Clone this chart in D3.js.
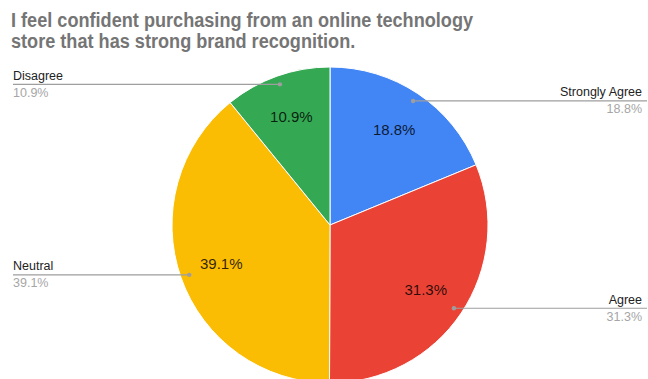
<!DOCTYPE html>
<html>
<head>
<meta charset="utf-8">
<script src="https://cdn.jsdelivr.net/npm/d3@7"></script>
<style>
  html, body { margin: 0; padding: 0; background: #fff; overflow: hidden; }
  svg { display: block; }
</style>
</head>
<body>
<svg id="chart" width="648" height="379"></svg>
<script>
// Survey response shares (percent)
const categories = ["Strongly Agree", "Agree", "Neutral", "Disagree"];
const shares = [18.8, 31.3, 39.1, 10.9];
const colors = ["#4285F4", "#EA4335", "#FBBC04", "#34A853"];
const titleLines = [
  "I feel confident purchasing from an online technology",
  "store that has strong brand recognition."
];

const width = 648, height = 379;
const cx = 330, cy = 225, R = 158;

const svg = d3.select("#chart");

// Title, set in a slightly condensed bold face
svg.append("g")
  .attr("transform", "translate(11,0) scale(0.93,1)")
  .selectAll("text")
  .data(titleLines)
  .join("text")
  .attr("x", 0)
  .attr("y", (d, i) => 27.5 + i * 20.5)
  .attr("font-family", "'Liberation Sans', Arial, sans-serif")
  .attr("font-weight", "bold")
  .attr("font-size", 19.5)
  .attr("fill", "#757575")
  .text(d => d);

const data = categories.map((c, i) => ({ name: c, value: shares[i], color: colors[i] }));

const pie = d3.pie().value(d => d.value).sort(null);
const arcs = pie(data);
const arc = d3.arc().innerRadius(0).outerRadius(R);
const labelArc = d3.arc().innerRadius(R * 0.73).outerRadius(R * 0.73);
const dotArc = d3.arc().innerRadius(R * 0.945).outerRadius(R * 0.945);

const g = svg.append("g").attr("transform", `translate(${cx},${cy})`);

g.selectAll("path.slice")
  .data(arcs)
  .join("path")
  .attr("class", "slice")
  .attr("d", arc)
  .attr("fill", d => d.data.color)
  .attr("stroke", "#fff")
  .attr("stroke-width", 1);

// Percent labels inside slices
g.selectAll("text.pct")
  .data(arcs)
  .join("text")
  .attr("class", "pct")
  .attr("transform", d => `translate(${labelArc.centroid(d)})`)
  .attr("text-anchor", "middle")
  .attr("dy", "0.36em")
  .attr("font-family", "'Liberation Sans', Arial, sans-serif")
  .attr("font-size", 15)
  .attr("fill", "#000")
  .attr("fill-opacity", 0.82)
  .text(d => d.data.value.toFixed(1) + "%");

// Callouts: dot on the slice, horizontal leader to the chart edge, name above and value below
const callouts = svg.append("g");
arcs.forEach(d => {
  const [dx, dy] = dotArc.centroid(d);
  const px = cx + dx, py = cy + dy;
  const right = px > cx;
  const lineEnd = right ? 647 : 13;
  const textX = right ? 642 : 13;
  const gc = callouts.append("g");
  gc.append("line")
    .attr("x1", px).attr("y1", py)
    .attr("x2", lineEnd).attr("y2", py)
    .attr("stroke", "#9e9e9e").attr("stroke-width", 1.2);
  gc.append("circle")
    .attr("cx", px).attr("cy", py).attr("r", 2.2)
    .attr("fill", "#9e9e9e");
  gc.append("text")
    .attr("x", textX).attr("y", py - 4.5)
    .attr("text-anchor", right ? "end" : "start")
    .attr("font-family", "'Liberation Sans', Arial, sans-serif")
    .attr("font-size", 12.5)
    .attr("fill", "#222")
    .text(d.data.name);
  gc.append("text")
    .attr("x", textX).attr("y", py + 12.5)
    .attr("text-anchor", right ? "end" : "start")
    .attr("font-family", "'Liberation Sans', Arial, sans-serif")
    .attr("font-size", 12.5)
    .attr("fill", "#a6a6a6")
    .text(d.data.value.toFixed(1) + "%");
});
</script>
</body>
</html>
